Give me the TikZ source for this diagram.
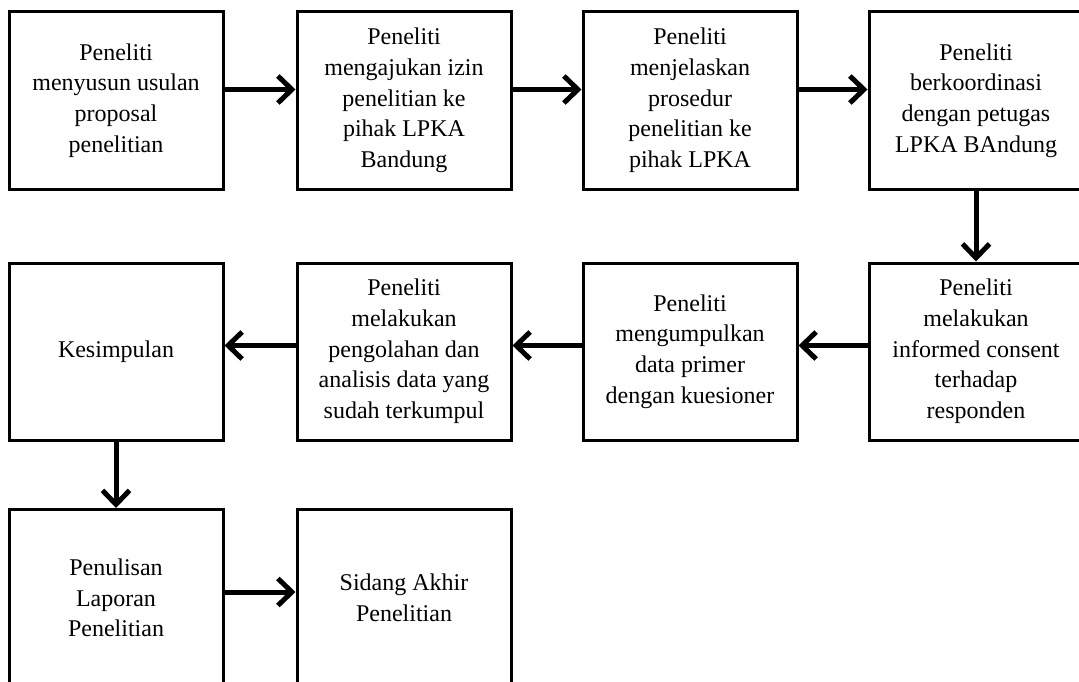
\documentclass[tikz,border=0pt]{standalone}
\usepackage{fontspec}
\setmainfont{Liberation Serif}
\usetikzlibrary{arrows.meta}

\begin{document}
\begin{tikzpicture}[x=1pt, y=-1pt,
  box/.style={draw, line width=3pt, minimum width=214pt, minimum height=177pt, align=center, inner sep=0pt, font=\fontsize{24}{30.7}\selectfont},
  flow/.style={line width=5pt, -{Straight Barb[length=14pt, width=27pt]}}]
\clip (0,0) rectangle (1079,682);
\fill[white] (0,0) rectangle (1079,682);

\node[box] (usulan) at (116,100.5) {Peneliti\\menyusun usulan\\proposal\\penelitian};
\node[box] (izin) at (404,100.5) {Peneliti\\mengajukan izin\\penelitian ke\\pihak LPKA\\Bandung};
\node[box] (prosedur) at (690,100.5) {Peneliti\\menjelaskan\\prosedur\\penelitian ke\\pihak LPKA};
\node[box] (koordinasi) at (976,100.5) {Peneliti\\berkoordinasi\\dengan petugas\\LPKA BAndung};

\node[box] (consent) at (976,351.5) {Peneliti\\melakukan\\informed consent\\terhadap\\responden};
\node[box] (kumpul) at (690,351.5) {Peneliti\\mengumpulkan\\data primer\\dengan kuesioner};
\node[box] (olah) at (404,351.5) {Peneliti\\melakukan\\pengolahan dan\\analisis data yang\\sudah terkumpul};
\node[box] (simpul) at (116,351.5) {Kesimpulan};

\node[box] (laporan) at (116,598) {Penulisan\\Laporan\\Penelitian};
\node[box] (sidang) at (404,598) {Sidang Akhir\\Penelitian};

\draw[flow] ([yshift=11pt]usulan.east) -- ([yshift=11pt]izin.west);
\draw[flow] ([yshift=11pt]izin.east) -- ([yshift=11pt]prosedur.west);
\draw[flow] ([yshift=11pt]prosedur.east) -- ([yshift=11pt]koordinasi.west);
\draw[flow] (koordinasi.south) -- (consent.north);
\draw[flow] ([yshift=6pt]consent.west) -- ([yshift=6pt]kumpul.east);
\draw[flow] ([yshift=6pt]kumpul.west) -- ([yshift=6pt]olah.east);
\draw[flow] ([yshift=6pt]olah.west) -- ([yshift=6pt]simpul.east);
\draw[flow] (simpul.south) -- (laporan.north);
\draw[flow] ([yshift=6pt]laporan.east) -- ([yshift=6pt]sidang.west);
\end{tikzpicture}
\end{document}
